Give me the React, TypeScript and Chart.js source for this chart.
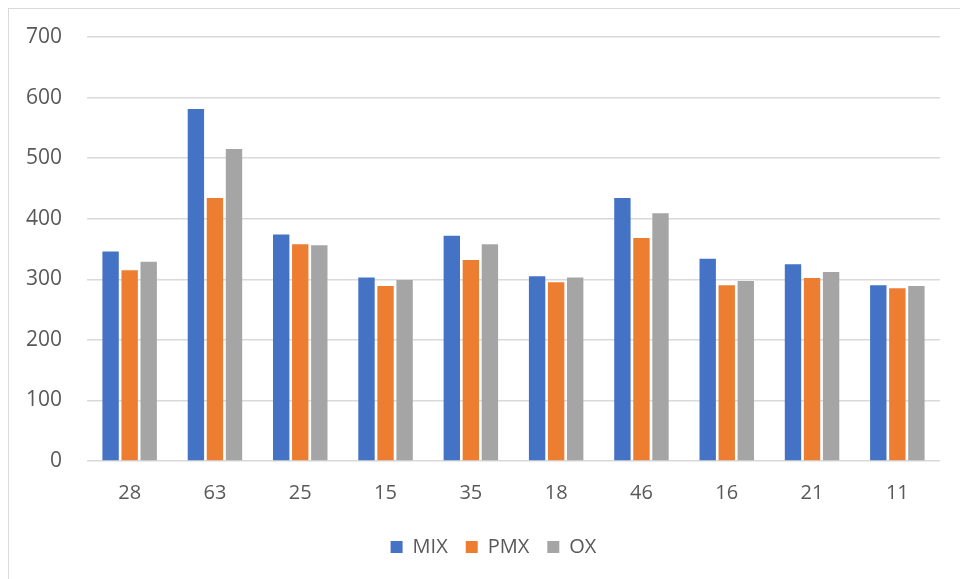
import React, { useEffect, useRef } from "react";
import { Chart, registerables } from "chart.js";

Chart.register(...registerables);

const categories = ["28", "63", "25", "15", "35", "18", "46", "16", "21", "11"];
const mixValues = [346, 581, 374, 303, 372, 305, 434, 334, 325, 290];
const pmxValues = [315, 434, 358, 289, 332, 295, 368, 290, 302, 285];
const oxValues = [329, 515, 356, 299, 358, 303, 409, 297, 312, 289];
const yTicks = [0, 100, 200, 300, 400, 500, 600, 700];

const FONT = "'Open Sans', 'Liberation Sans', sans-serif";
const TEXT_COLOR = "#595959";
const GRID_COLOR = "#d9d9d9";

// Nudges the legend row a little to the right of the canvas centre.
const legendOffset = {
  id: "legendOffset",
  afterLayout(chart: any) {
    const lg = chart.legend;
    if (lg) {
      lg.left += 19;
      lg.right += 19;
    }
  },
};

export default function App() {
  const canvasRef = useRef<HTMLCanvasElement | null>(null);

  useEffect(() => {
    if (!canvasRef.current) return;
    const chart = new Chart(canvasRef.current, {
      type: "bar",
      data: {
        labels: categories,
        datasets: [
          { label: "MIX", data: mixValues, backgroundColor: "#4472C4" },
          { label: "PMX", data: pmxValues, backgroundColor: "#ED7D31" },
          { label: "OX", data: oxValues, backgroundColor: "#A5A5A5" },
        ],
      },
      options: {
        animation: false,
        responsive: false,
        devicePixelRatio: 1,
        datasets: {
          bar: { categoryPercentage: 0.67, barPercentage: 0.86, borderWidth: 0 },
        },
        layout: { padding: { top: 28, right: 27, bottom: 22, left: 0 } },
        plugins: {
          tooltip: { enabled: false },
          legend: {
            position: "bottom",
            labels: {
              font: { family: FONT, size: 20 },
              color: TEXT_COLOR,
              boxWidth: 12,
              boxHeight: 12,
              padding: 18,
            },
          },
        },
        scales: {
          x: {
            grid: { display: false },
            border: { display: false },
            ticks: { font: { family: FONT, size: 20 }, color: TEXT_COLOR, padding: 12 },
            afterFit: (scale: any) => {
              scale.height = 58;
            },
          },
          y: {
            min: 0,
            max: 700,
            afterBuildTicks: (scale: any) => {
              scale.ticks = yTicks.map((v) => ({ value: v }));
            },
            grid: { color: GRID_COLOR, lineWidth: 1.5, drawTicks: false },
            border: { display: false },
            ticks: { font: { family: FONT, size: 21 }, color: TEXT_COLOR, padding: 25 },
            afterFit: (scale: any) => {
              scale.width = 78;
              scale.paddingTop = 0;
              scale.paddingBottom = 0;
            },
          },
        },
      },
      plugins: [legendOffset],
    });
    return () => chart.destroy();
  }, []);

  return (
    <div
      style={{
        position: "fixed",
        left: 8,
        top: 8,
        width: 958,
        height: 580,
        border: "1px solid #d9d9d9",
        background: "#fff",
      }}
    >
      <canvas ref={canvasRef} width={958} height={580} style={{ display: "block" }} />
    </div>
  );
}
